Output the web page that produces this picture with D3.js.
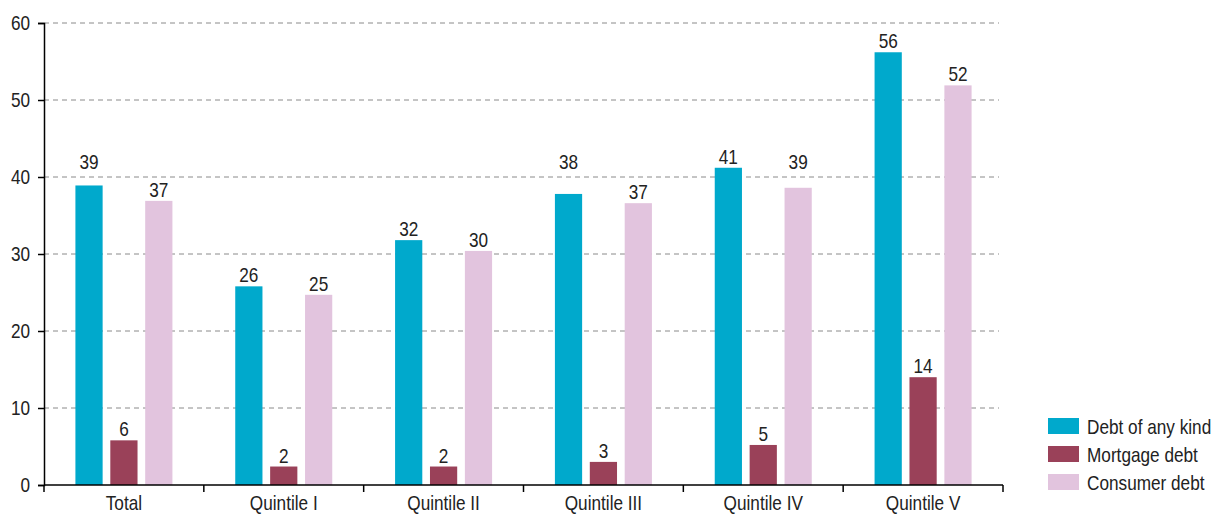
<!DOCTYPE html>
<html>
<head>
<meta charset="utf-8">
<script src="https://cdn.jsdelivr.net/npm/d3@7"></script>
<style>
  html, body { margin: 0; padding: 0; background: #fff; }
  svg text { font-family: "Liberation Sans", Arial, sans-serif; fill: #222; }
</style>
</head>
<body>
<svg id="chart" width="1218" height="515"></svg>
<script>
const categories = ["Total", "Quintile I", "Quintile II", "Quintile III", "Quintile IV", "Quintile V"];
const seriesNames = ["Debt of any kind", "Mortgage debt", "Consumer debt"];
const seriesColors = ["#00a9cc", "#9a4159", "#e2c4de"];
const anyDebt = [38.9, 25.8, 31.8, 37.8, 41.2, 56.2];
const mortgageDebt = [5.8, 2.4, 2.4, 3.0, 5.2, 14.0];
const consumerDebt = [36.9, 24.7, 30.4, 36.6, 38.6, 51.9];
const yTicks = [0, 10, 20, 30, 40, 50, 60];

const series = [anyDebt, mortgageDebt, consumerDebt];

const FONT_SIZE = 20;
const NARROW = 0.86;   // horizontal squeeze for a condensed look

const svg = d3.select("#chart");
const margin = { left: 44, right: 215, top: 23, bottom: 30 };
const W = 1218, H = 515;
const x0 = margin.left, x1 = W - margin.right, yTop = margin.top, yBot = H - margin.bottom;

const x = d3.scaleBand().domain(categories).range([x0, x1]).paddingInner(0).paddingOuter(0);
const xs = d3.scaleBand().domain(d3.range(series.length))
  .range([0, x.bandwidth()]).paddingInner(0.22).paddingOuter(0.9);
const y = d3.scaleLinear().domain([0, 60]).range([yBot, yTop]);

// condensed text placed at (px, py)
function label(parent, px, py, str, anchor) {
  return parent.append("text")
    .attr("transform", `translate(${px},${py}) scale(${NARROW},1)`)
    .attr("text-anchor", anchor || "middle")
    .attr("font-size", FONT_SIZE)
    .text(str);
}

// dashed gridlines
const gridValues = yTicks.filter(t => t > 0);
svg.append("g").selectAll("line")
  .data(gridValues)
  .join("line")
  .attr("x1", x0).attr("x2", x1 - 4)
  .attr("y1", d => y(d)).attr("y2", d => y(d))
  .attr("stroke", "#8a8a8a").attr("stroke-width", 1)
  .attr("stroke-dasharray", "5,4");

// value labels sit just above the bar; if that would cross a gridline, lift them over it
function labelBaseline(v) {
  let b = y(v) - 4;
  const hit = gridValues.map(g => y(g)).find(gy => gy >= b - 15 && gy <= b + 2);
  if (hit !== undefined) b = hit - 8;
  return b;
}

// bars and value labels
const plot = svg.append("g");
categories.forEach((cat, ci) => {
  const g = plot.append("g").attr("transform", `translate(${x(cat)},0)`);
  series.forEach((vals, si) => {
    const v = vals[ci];
    g.append("rect")
      .attr("x", xs(si))
      .attr("width", xs.bandwidth())
      .attr("y", y(v))
      .attr("height", y(0) - y(v))
      .attr("fill", seriesColors[si]);
    label(g, xs(si) + xs.bandwidth() / 2, labelBaseline(v), d3.format(".0f")(v));
  });
});

// y axis
const yAxis = svg.append("g")
  .attr("transform", `translate(${x0},0)`)
  .call(d3.axisLeft(y).tickValues(yTicks).tickSize(6).tickFormat(""));
yAxis.select(".domain").attr("stroke", "#000").attr("stroke-width", 1.5);
yAxis.selectAll(".tick line").attr("stroke", "#000").attr("stroke-width", 1.5);
const yLab = svg.append("g");
yTicks.forEach(t => label(yLab, x0 - 14, y(t) + 7, String(t), "end"));

// x axis baseline with boundary ticks
const xg = svg.append("g");
xg.append("line").attr("x1", x0).attr("x2", x1).attr("y1", yBot).attr("y2", yBot)
  .attr("stroke", "#000").attr("stroke-width", 1.5);
const bounds = categories.map(c => x(c)).concat([x(categories[categories.length - 1]) + x.bandwidth()]);
xg.selectAll("line.b").data(bounds).join("line").attr("class", "b")
  .attr("x1", d => d).attr("x2", d => d)
  .attr("y1", yBot).attr("y2", yBot + 7)
  .attr("stroke", "#000").attr("stroke-width", 1.5);
categories.forEach(c => label(xg, x(c) + x.bandwidth() / 2, yBot + 25, c));

// legend
const legend = svg.append("g").attr("transform", "translate(1048,418)");
seriesNames.forEach((name, i) => {
  const g = legend.append("g").attr("transform", `translate(0,${i * 28})`);
  g.append("rect").attr("width", 31).attr("height", 16).attr("fill", seriesColors[i]);
  label(g, 39, 16, name, "start");
});
</script>
</body>
</html>
